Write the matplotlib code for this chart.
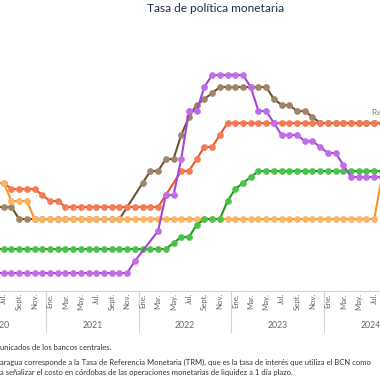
import numpy as np
import pandas as pd
import matplotlib
matplotlib.use("Agg")
import matplotlib.pyplot as plt

plt.rcParams['font.family'] = ['Lato', 'DejaVu Sans']

# meses de jun. 2020 a ago. 2024 (indice 0 = ene. 2021 en el eje)
meses = pd.date_range("2020-06-01", "2024-08-01", freq="MS")
nan = np.nan

rep_dominicana = [3.5, 3.5, 3.5, 3.0] + [3.0] * 13 + [nan, nan] + \
    [4.5, 5.0, 5.0, 5.5, 5.5, 6.5, 7.25, 7.75, 8.0, 8.25] + [8.5] * 7 + \
    [8.0, 7.75, 7.75, 7.5, 7.5, 7.25] + [7.0] * 9
nicaragua = [4.5, 4.5] + [4.25] * 4 + [4.0, 3.75, 3.75] + [3.5] * 13 + \
    [4.0, nan, 5.0, 5.0, 5.5, 6.0, 6.0, 6.5] + [7.0] * 21
honduras = [4.5, 4.5] + [3.75] * 3 + [3.0] * 45 + [4.75]
guatemala = [1.75] * 23 + [2.0, 2.25, 2.25, 2.75, 3.0, 3.0, 3.0,
                           3.75, 4.25, 4.5, 4.75] + [5.0] * 17
costa_rica = [0.75] * 18 + [1.25, nan, nan, 2.5, 4.0, 4.0, 5.5, 7.5, 7.5, 8.5] + \
    [9.0] * 5 + [8.5, 7.5, 7.5, 7.0, 6.5, 6.5, 6.5, 6.25, 6.25, 6.0,
                 5.75, 5.75, 5.25] + [4.75] * 5

series = [
    ("República Dominicana", rep_dominicana, "#6e5232", "#a08468"),
    ("Nicaragua", nicaragua, "#e8562a", "#f27a55"),
    ("Honduras", honduras, "#f7941d", "#fbb463"),
    ("Guatemala", guatemala, "#1f9a1f", "#4cc24c"),
    ("Costa Rica", costa_rica, "#a545d6", "#c06ee8"),
]

abrev = {1: "Ene.", 3: "Mar.", 5: "May.", 7: "Jul.", 9: "Sept.", 11: "Nov."}

W = 380
fig = plt.figure(figsize=(3.8, 3.8), dpi=100)
ax = fig.add_axes([0, 89 / W, 1, 291 / W])
ax.set_xlim(-6.48, 42.75)
ax.set_ylim(0, 291 / 24)
ax.axis("off")

x = np.arange(len(meses)) - 7
for nombre, vals, c_line, c_mark in series:
    y = np.array(vals, dtype=float)
    ok = ~np.isnan(y)
    ax.plot(x[ok], y[ok], color=c_line, lw=1.5, marker="o", ms=4.4,
            mfc=c_mark, mec=c_mark, mew=0.4, clip_on=True)

def ypx(p):
    return (291 - p) / 24

# eje x
ax.plot([-10, 50], [0, 0], color="#d4d4d4", lw=0.8, clip_on=False)
for i, d in enumerate(meses):
    if d.month in abrev:
        ax.text(x[i], ypx(293), abrev[d.month], rotation=90, ha="center",
                va="top", fontsize=5.6, color="#666666", clip_on=False)
for anio in [2020, 2021, 2022, 2023, 2024]:
    m0 = (anio - 2021) * 12
    ax.plot([m0 - 0.5, m0 - 0.5], [0, ypx(332)], color="#d4d4d4", lw=0.8,
            clip_on=False)
    ax.text(m0 + 5.5, ypx(325), str(anio), ha="center", va="center",
            fontsize=6.3, color="#666666", clip_on=False)

ax.text(41.7, ypx(113), "República Dominicana", ha="left", va="center",
        fontsize=6, color="#8a7a62", clip_on=False)

fig.text(216 / W, 1 - 9 / W, "Tasa de política monetaria", ha="center",
         va="center", fontsize=8.6, color="#1e2f4d")

fig.text(0, 1 - 348 / W, "unicados de los bancos centrales.", ha="left",
         va="center", fontsize=5.5, color="#333333")
fig.text(0, 1 - 362 / W,
         "aragua corresponde a la Tasa de Referencia Monetaria (TRM), que es "
         "la tasa de interés que utiliza el BCN como",
         ha="left", va="center", fontsize=5.5, color="#333333")
fig.text(0, 1 - 372 / W,
         "a señalizar el costo en córdobas de las operaciones monetarias de "
         "liquidez a 1 día plazo.",
         ha="left", va="center", fontsize=5.5, color="#333333")

fig.savefig("out.png", dpi=100)
